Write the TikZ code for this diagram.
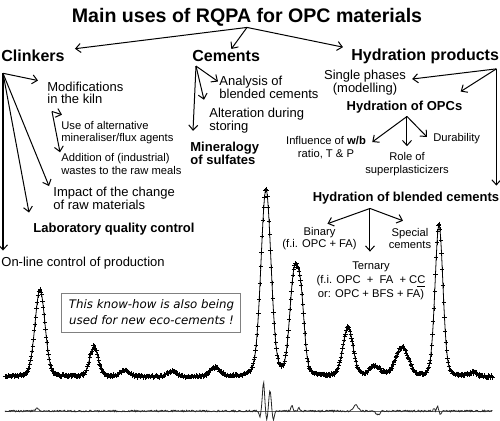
\documentclass[tikz,border=0pt]{standalone}
\usepackage{fontspec}
\setmainfont{Liberation Sans}
\newfontfamily\notefont{DejaVu Sans}
\usepackage{tikz}
\usetikzlibrary{arrows.meta}
\tikzset{
  titleb/.style={font=\bfseries\fontsize{9.8}{11}\selectfont, inner sep=0.5pt},
  head/.style={font=\bfseries\fontsize{8}{9.5}\selectfont, inner sep=0.5pt},
  lbl/.style={font=\fontsize{6.5}{6.3}\selectfont, align=left, inner sep=0.5pt},
  boldlbl/.style={font=\bfseries\fontsize{6.5}{6.5}\selectfont, align=left, inner sep=0.5pt},
  smalllbl/.style={font=\fontsize{5.6}{6.2}\selectfont, align=left, inner sep=0.5pt},
  notebox/.style={draw=black!50, line width=0.5pt, align=center, inner sep=2pt,
                  font=\notefont\itshape\fontsize{5.9}{8}\selectfont,
                  minimum width=89.5pt, minimum height=19.5pt},
  pipe/.style={-{Straight Barb[length=2.5pt, width=4.5pt]}, line width=0.5pt},
  fitline/.style={line width=0.4pt},
  obsmark/.style={only marks, mark=+, mark size=1.1pt, mark options={line width=0.35pt}},
}
% peak profile (pseudo-Voigt), narrow gaussian and pseudo noise, for \fpeval
\newcommand\pk[4]{(#3)*(0.85*exp(0-((#1-#2)/#4)^2)+0.15/(1+((#1-#2)/#4)^2))}
\newcommand\gs[3]{exp(0-((#1-#2)/#3)^2)}
\newcommand\hash[1]{(2*(1000*abs(sin(#1*12.9898))-floor(1000*abs(sin(#1*12.9898))))-1)}
\newcommand\xrdexpr[1]{\pk{#1}{40}{87}{7}+\pk{#1}{94}{30}{6}+\pk{#1}{125}{6}{7}
  +\pk{#1}{172}{5}{7}+\pk{#1}{215}{9}{7}+\pk{#1}{266}{187}{7}+\pk{#1}{294}{96}{6}
  +\pk{#1}{301}{65}{5}+\pk{#1}{348}{49}{7}+\pk{#1}{375}{10}{8}+\pk{#1}{402}{29}{9}
  +\pk{#1}{439}{152}{5.5}+\pk{#1}{473}{4}{6}}
\newcommand\difexpr[1]{-3*\gs{#1}{37}{2}+6*\gs{#1}{259.8}{1}-29*\gs{#1}{263.5}{1.5}
  +9*\gs{#1}{266.8}{1.1}-21*\gs{#1}{270}{1.5}+9*\gs{#1}{273.3}{1.3}-5*\gs{#1}{292}{1.5}
  -3*\gs{#1}{299}{1.5}-6*\gs{#1}{356}{3}+4*\gs{#1}{378}{2.5}-3*\gs{#1}{434}{1}
  -5*\gs{#1}{437.5}{1}+4*\gs{#1}{440.5}{1}}

\begin{document}
\begin{tikzpicture}[x=0.5pt, y=-0.5pt]
    \useasboundingbox (0,0) rectangle (500,420);

    % headings
    \node[titleb] (title) at (247,17) {Main uses of RQPA for OPC materials};
    \node[head, anchor=west] (clk) at (0,56) {Clinkers};
    \node[head, anchor=west] (cem) at (191,56) {Cements};
    \node[head, anchor=west] (hyd) at (350,56) {Hydration products};

    % clinkers
    \node[lbl, anchor=west] (mod) at (46,93) {Modifications\\in the kiln};
    \node[smalllbl, anchor=west] (use) at (60,132.5) {Use of alternative\\mineraliser/flux agents};
    \node[smalllbl, anchor=west] (add) at (60,164) {Addition of (industrial)\\wastes to the raw meals};
    \node[lbl, anchor=west] (imp) at (52,198.5) {Impact of the change\\of raw materials};
    \node[boldlbl, anchor=west] (lab) at (32,229) {Laboratory quality control};
    \node[lbl, anchor=west] (onl) at (0,263) {On-line control of production};

    % cements
    \node[lbl, anchor=west] (ana) at (218,87.5) {Analysis of\\blended cements};
    \node[lbl, anchor=west] (alt) at (208,120.5) {Alteration during\\storing};
    \node[boldlbl, anchor=west] (minr) at (189,153.5) {Mineralogy\\of sulfates};

    % hydration products
    \node[lbl, align=center] (sin) at (365,82.5) {Single phases\\(modelling)};
    \node[boldlbl] (opc) at (404.5,107) {Hydration of OPCs};
    \node[smalllbl, align=center] (inf) at (326,147.5) {Influence of \textbf{w/b}\\ratio, T \& P};
    \node[smalllbl, align=center] (rol) at (407,164) {Role of\\superplasticizers};
    \node[smalllbl, anchor=west] (dur) at (432,139) {Durability};
    \node[boldlbl] (bld) at (406,198) {Hydration of blended cements};
    \node[smalllbl, align=center] (bin) at (319.5,238.5) {Binary\\(f.i. OPC + FA)};
    \node[smalllbl, align=center] (spe) at (410,238.5) {Special\\cements};
    \node[smalllbl, align=center, font=\fontsize{5.6}{7}\selectfont] (ter) at (371,281)
        {Ternary\\(f.i. OPC \ + \ FA \ + C\underline{C}\\or: OPC + BFS + FA)};

    \node[notebox] (note) at (151.5,312.5) {This know-how is also being\\used for new eco-cements !};

    % fan origins
    \coordinate (clkfan) at ([xshift=1.5pt,yshift=-5pt]clk.south west);
    \coordinate (modfan) at ([xshift=3pt,yshift=-3pt]mod.south west);
    \coordinate (cemfan) at ([xshift=2.5pt,yshift=-1.5pt]cem.south west);
    \coordinate (hydfan) at ([xshift=-2pt,yshift=-2pt]hyd.south east);
    \coordinate (opcfan) at ([xshift=1.25pt,yshift=-1pt]opc.south);
    \coordinate (bldfan) at ([xshift=-18pt,yshift=-1.5pt]bld.south);

    \draw[pipe] (title.south) -- ([xshift=4.5pt]clk.north east);
    \draw[pipe] (title.south) -- (cem);
    \draw[pipe] (title.south) -- ([xshift=-3.5pt]hyd.north west);

    \draw[pipe] (clkfan) -- ([xshift=-4pt]mod.north west);
    \draw[pipe] (clkfan) -- ([xshift=-1.5pt]imp.north west);
    \draw[pipe] (clkfan) -- ([xshift=-1.5pt,yshift=4.5pt]lab.north west);
    \draw[pipe] (clkfan) -- ([yshift=2.5pt]clkfan |- onl.north);
    \draw[pipe] (modfan) -- ([xshift=1pt,yshift=2.5pt]use.north west);
    \draw[pipe] (modfan) -- (add.north west);

    \draw[pipe] (cemfan) -- ([yshift=3pt]ana.west);
    \draw[pipe] (cemfan) -- ([xshift=-2pt,yshift=3.5pt]alt.north west);
    \draw[pipe] (cemfan) -- ([xshift=2pt,yshift=5pt]minr.north west);

    \draw[pipe] (hydfan) -- ([xshift=2.5pt,yshift=1.75pt]sin.east);
    \draw[pipe] (hydfan) -- ([xshift=-1.5pt,yshift=4pt]opc.north east);
    \draw[pipe] (hydfan) -- ([yshift=2.5pt]hydfan |- bld.north);
    \draw[pipe] (opcfan) -- ([xshift=2.5pt,yshift=2.75pt]inf.east);
    \draw[pipe] (opcfan) -- ([yshift=2.5pt]opcfan |- rol.north);
    \draw[pipe] (opcfan) -- ([xshift=-2.5pt,yshift=1pt]dur.west);
    \draw[pipe] (bldfan) -- ([xshift=4pt,yshift=1pt]bin.north);
    \draw[pipe] (bldfan) -- ([xshift=-3.5pt,yshift=3pt]spe.north);
    \draw[pipe] (bldfan) -- ([yshift=4.5pt]bldfan |- ter.north);

    % diffraction pattern: fit, observed points, difference
    \gdef\fitlist{}\gdef\obslist{}\gdef\diflist{}
    \foreach \i in {0,...,650}{%
      \edef\xx{\fpeval{5+0.75*\i}}%
      \edef\yy{\fpeval{round(377-(\xrdexpr{\xx}),2)}}%
      \edef\yo{\fpeval{round(\yy+1.2*\hash{\xx},2)}}%
      \edef\yd{\fpeval{round(411+\difexpr{\xx}+0.8*\hash{(\xx+0.37)},2)}}%
      \xdef\fitlist{\fitlist(\xx,\yy)}%
      \xdef\obslist{\obslist(\xx,\yo)}%
      \xdef\diflist{\diflist(\xx,\yd)}%
    }
    \draw[fitline] plot coordinates {\fitlist};
    \draw plot[obsmark] coordinates {\obslist};
    \draw[black!60, line width=0.4pt] (5,411) -- (492,411);
    \draw[black!85, line width=0.4pt] plot coordinates {\diflist};
\end{tikzpicture}
\end{document}
